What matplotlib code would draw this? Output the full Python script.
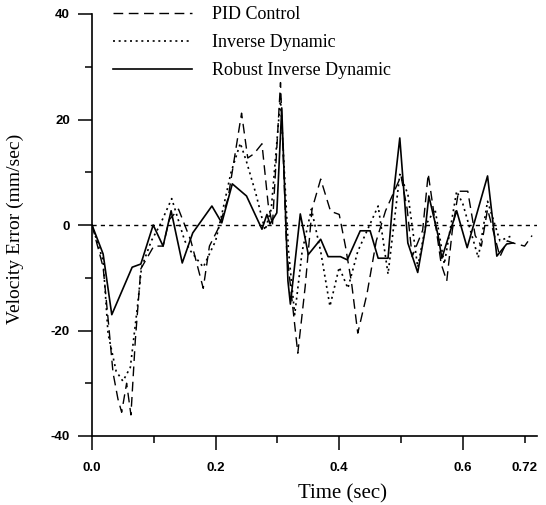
import matplotlib
matplotlib.use("Agg")
import matplotlib.pyplot as plt
from matplotlib.ticker import FixedLocator, FixedFormatter

# ---------------- data ----------------
pid_t = [0, 0.018, 0.027, 0.034, 0.042, 0.048, 0.056, 0.063, 0.070, 0.079, 0.100, 0.115,
         0.125, 0.140, 0.160, 0.180, 0.190, 0.205, 0.220, 0.242, 0.252, 0.262, 0.275,
         0.285, 0.292, 0.305, 0.315, 0.333, 0.345, 0.356, 0.370, 0.381, 0.386, 0.400,
         0.410, 0.420, 0.430, 0.445, 0.460, 0.475, 0.500, 0.510, 0.518, 0.535, 0.544,
         0.565, 0.574, 0.583, 0.593, 0.608, 0.620, 0.630, 0.640, 0.660, 0.672, 0.681,
         0.700, 0.712]
pid_v = [0, -8, -19, -28, -33, -35.5, -30, -36, -22, -8.3, -4, -4,
         1, 3, -3, -12, -4, -0.5, 5, 21.2, 12.7, 13.5, 15.4,
         4, 0, 27, -5, -24.3, -11.6, 3, 8.7, 4.5, 2.6, 2,
         -4, -11, -20.5, -13, -3, 2.7, 9.3, 3, -6, -1, 9.7,
         -7.4, -10.6, -1, 6.4, 6.4, -2, -4, 3, -6, -3, -3.4,
         -4, -2]

inv_t = [0, 0.018, 0.026, 0.039, 0.050, 0.062, 0.074, 0.080, 0.096, 0.110, 0.129,
         0.150, 0.160, 0.180, 0.200, 0.210, 0.225, 0.240, 0.250, 0.265, 0.280, 0.290,
         0.305, 0.318, 0.328, 0.340, 0.355, 0.370, 0.385, 0.400, 0.414, 0.430, 0.463,
         0.479, 0.498, 0.511, 0.527, 0.540, 0.555, 0.570, 0.590, 0.600, 0.625, 0.640,
         0.660, 0.680]
inv_v = [0, -6.8, -20.6, -27.7, -29.6, -27, -15, -8.1, -3, 0, 5,
         -3, -5, -8, -3, 2, 10, 15.5, 12, 6, -1, 3,
         24, -5, -17, -5, 3, -5, -15.4, -8, -12, -5, 3.6,
         -9.3, 9.6, 5.9, -8, 0, 3, -7.4, 6.4, 4, -6.2, 4.5,
         -3, -2]

rob_t = [0, 0.018, 0.032, 0.065, 0.079, 0.099, 0.115, 0.128, 0.146, 0.163, 0.194,
         0.210, 0.227, 0.250, 0.275, 0.283, 0.288, 0.299, 0.307, 0.317, 0.321, 0.337,
         0.350, 0.370, 0.382, 0.402, 0.413, 0.434, 0.450, 0.463, 0.479, 0.487, 0.498,
         0.511, 0.527, 0.539, 0.545, 0.560, 0.566, 0.590, 0.607, 0.640, 0.655, 0.671,
         0.681]
rob_v = [0, -5.5, -17, -8, -7.4, 0, -4, 2.7, -7.2, -1.5, 3.6,
         0.4, 7.8, 5.5, -0.8, 2, 0.2, 2.3, 22.2, -10.6, -15, 2.1,
         -5.6, -2.7, -6, -6, -6.6, -1.1, -1.1, -6.3, -6.3, 5, 16.5,
         -3.4, -9, -1, 5.5, -2, -6.3, 2.7, -4.3, 9.3, -5.9, -3.6,
         -3.4]

series_labels = ["PID Control", "Inverse Dynamic", "Robust Inverse Dynamic"]
x_major = [0.0, 0.2, 0.4, 0.6]
x_major_labels = ["0.0", "0.2", "0.4", "0.6"]
x_minor = [0.1, 0.3, 0.5, 0.7]
x_minor_labels = ["", "", "", "0.72"]
y_major = [-40, -20, 0, 20, 40]
y_major_labels = ["-40", "-20", "0", "20", "40"]
y_minor = [-30, -10, 10, 30]

# ---------------- figure ----------------
W, H = 546, 505
fig = plt.figure(figsize=(W / 100, H / 100), dpi=100)
ax = fig.add_axes([92 / W, 1 - 436 / H, (537 - 92) / W, (436 - 14) / H])

serif = ["Liberation Serif", "DejaVu Serif"]
sans = ["Liberation Sans", "DejaVu Sans"]

ax.axhline(0, color="black", lw=1.0, linestyle=(0, (3, 3)), zorder=1)
ax.plot(pid_t, pid_v, color="black", lw=1.0, linestyle=(0, (7, 4)), label=series_labels[0], zorder=2)
ax.plot(inv_t, inv_v, color="black", lw=1.2, linestyle=(0, (1.2, 2.2)), label=series_labels[1], zorder=3)
ax.plot(rob_t, rob_v, color="black", lw=1.2, linestyle="-", label=series_labels[2], zorder=4)

ax.set_xlim(0, 0.72)
ax.set_ylim(-40, 40)

for s in ["top", "right"]:
    ax.spines[s].set_visible(False)
for s in ["left", "bottom"]:
    ax.spines[s].set_linewidth(1.2)

ax.xaxis.set_major_locator(FixedLocator(x_major))
ax.xaxis.set_major_formatter(FixedFormatter(x_major_labels))
ax.xaxis.set_minor_locator(FixedLocator(x_minor))
ax.xaxis.set_minor_formatter(FixedFormatter(x_minor_labels))
ax.yaxis.set_major_locator(FixedLocator(y_major))
ax.yaxis.set_major_formatter(FixedFormatter(y_major_labels))
ax.yaxis.set_minor_locator(FixedLocator(y_minor))

ax.tick_params(axis="both", which="major", direction="out", length=10, width=1.1, color="black")
ax.tick_params(axis="both", which="minor", direction="out", length=5, width=1.1, color="black")
ax.tick_params(axis="x", which="major", pad=9)
ax.tick_params(axis="x", which="minor", pad=14)
ax.tick_params(axis="y", which="major", pad=6)
for lab in ax.get_xticklabels(which="both") + ax.get_yticklabels():
    lab.set_fontfamily(sans)
    lab.set_fontsize(9.5)
    lab.set_fontweight("bold")

ax.set_xlabel("Time (sec)", fontsize=15, family=serif)
ax.xaxis.set_label_coords((343 - 92) / (537 - 92), -(484 - 436) / (436 - 14))
ax.set_ylabel("Velocity Error (mm/sec)", fontsize=14, family=serif)
ax.yaxis.set_label_coords(-(92 - 24) / (537 - 92), 0.49)

leg = ax.legend(loc="upper left", bbox_to_anchor=(113 / W, 1 - 6 / H),
                bbox_transform=fig.transFigure, frameon=False,
                prop={"family": serif, "size": 13},
                handlelength=4.4, handletextpad=1.1, labelspacing=0.62,
                borderpad=0, borderaxespad=0)

fig.savefig("out.png", dpi=100)
